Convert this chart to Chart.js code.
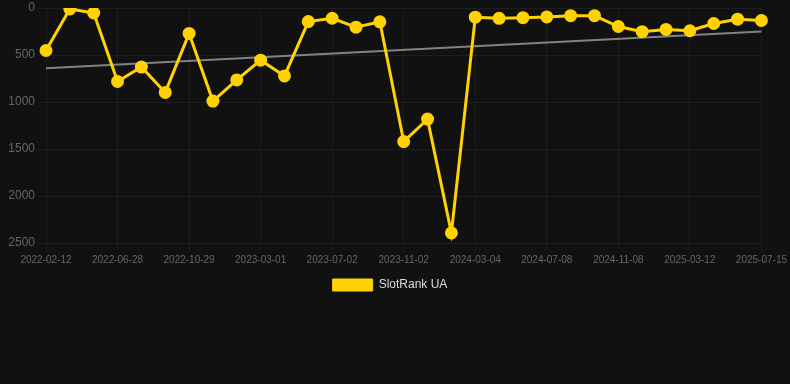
<!DOCTYPE html>
<html>
<head>
<meta charset="utf-8">
<script src="https://cdn.jsdelivr.net/npm/chart.js@4/dist/chart.umd.min.js"></script>
<style>
  html, body { margin: 0; padding: 0; background: #111111; }
  #wrap { width: 790px; height: 301px; position: relative; }
</style>
</head>
<body>
<div id="wrap"><canvas id="rankChart"></canvas></div>
<script>
/* ─── DATA ────────────────────────────────────────────────── */
const dates = [
  '2022-02-12', '2022-03-28', '2022-05-12', '2022-06-28', '2022-08-08',
  '2022-09-18', '2022-10-29', '2022-12-10', '2023-01-20', '2023-03-01',
  '2023-04-12', '2023-05-22', '2023-07-02', '2023-08-12', '2023-09-22',
  '2023-11-02', '2023-12-14', '2024-01-24', '2024-03-04', '2024-04-15',
  '2024-05-27', '2024-07-08', '2024-08-19', '2024-09-28', '2024-11-08',
  '2024-12-20', '2025-01-30', '2025-03-12', '2025-04-23', '2025-06-03',
  '2025-07-15',
];

const rankUA = [
  452, 10, 53, 782, 628, 898, 270, 990, 765, 555,
  723, 144, 109, 204, 147, 1421, 1182, 2393, 98, 110,
  103, 95, 82, 82, 197, 252, 228, 242, 165, 119,
  133,
];

// trend line: only the two end values, joined by spanGaps
const trendStart = 642;
const trendEnd   = 249;
const trend = dates.map((d, i) =>
  i === 0 ? trendStart : i === dates.length - 1 ? trendEnd : null);

/* ─── CHART ───────────────────────────────────────────────── */
const gold = '#ffd200';
const gridColor = 'rgba(255,255,255,0.05)';

new Chart(document.getElementById('rankChart'), {
  type: 'line',
  data: {
    labels: dates,
    datasets: [
      {
        label: 'SlotRank UA',
        data: rankUA,
        borderColor: gold,
        backgroundColor: gold,
        borderWidth: 3,
        pointRadius: 5,
        pointBackgroundColor: gold,
        pointBorderColor: gold,
        tension: 0,
      },
      {
        label: 'trend',
        data: trend,
        spanGaps: true,
        borderColor: 'rgba(150,150,150,0.85)',
        borderWidth: 2,
        pointRadius: 0,
        tension: 0,
      },
    ],
  },
  options: {
    responsive: true,
    maintainAspectRatio: false,
    animation: false,
    layout: { padding: { left: 0, right: 10 } },
    plugins: {
      legend: {
        position: 'bottom',
        labels: {
          color: '#dddddd',
          font: { family: 'Liberation Sans', size: 12 },
          boxWidth: 40,
          boxHeight: 12,
          generateLabels: chart =>
            Chart.defaults.plugins.legend.labels.generateLabels(chart)
              .filter(l => l.text !== 'trend')
              .map(l => ({ ...l, lineWidth: 1 })),
        },
      },
      tooltip: { enabled: false },
    },
    scales: {
      x: {
        grid: { color: gridColor },
        border: { display: false },
        ticks: {
          color: '#666666',
          font: { family: 'Liberation Sans', size: 10 },
          maxRotation: 0,
          autoSkip: true,
          maxTicksLimit: 11,
        },
      },
      y: {
        reverse: true,
        min: 0,
        max: 2500,
        grid: { color: gridColor },
        border: { display: false },
        afterFit: s => { s.paddingTop = 6; s.width = 46; },
        ticks: {
          color: '#666666',
          stepSize: 500,
          font: { family: 'Liberation Sans', size: 12 },
          callback: v => String(v),
        },
      },
    },
  },
});
</script>
</body>
</html>
